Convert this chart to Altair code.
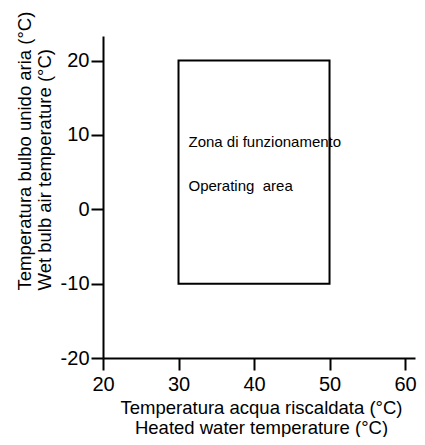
import altair as alt
import pandas as pd

# ---- data ----
x_ticks = [20, 30, 40, 50, 60]
y_ticks = [-20, -10, 0, 10, 20]
zone_x = [30, 50]
zone_y = [-10, 20]
label_text = ["Zona di funzionamento", "Operating\u00a0 area"]
label_y = [8.4, 2.4]
label_x = [30, 30]

x_domain = [20, 61.32]
y_domain = [-20, 23.3]

zone_df = pd.DataFrame({"x": [zone_x[0]], "x2": [zone_x[1]], "y": [zone_y[0]], "y2": [zone_y[1]]})
label_df = pd.DataFrame({"x": label_x, "y": label_y, "t": label_text})

FONT = "Liberation Sans"

xscale = alt.Scale(domain=x_domain, nice=False, zero=False)
yscale = alt.Scale(domain=y_domain, nice=False, zero=False)

xaxis = alt.Axis(
    values=x_ticks, title=["Temperatura acqua riscaldata (°C)", "Heated water temperature (°C)"],
    labelExpr="'' + datum.value",
    grid=False, tickSize=12, labelPadding=4, labelFontSize=20, titleFontSize=18.5,
    titleFontWeight="normal", titleLineHeight=20, titleAlign="center", titleBaseline="alphabetic",
    titleX=158, titleY=55, domainWidth=2, tickWidth=2, domainColor="black", tickColor="black",
    labelColor="black", titleColor="black", labelFont=FONT, titleFont=FONT, labelFlush=False,
)
yaxis = alt.Axis(
    values=y_ticks, title=["Temperatura bulbo unido aria (°C)", "Wet bulb air temperature (°C)"],
    labelExpr="'' + datum.value",
    grid=False, tickSize=12, labelPadding=2, labelFontSize=20, titleFontSize=18.5,
    titleFontWeight="normal", titleLineHeight=20.5, titleAngle=270, titleAlign="left",
    titleBaseline="alphabetic", titleX=-73, titleY=254, domainWidth=2, tickWidth=2,
    domainColor="black", tickColor="black", labelColor="black", titleColor="black",
    labelFont=FONT, titleFont=FONT, labelFlush=False,
)

rect = alt.Chart(zone_df).mark_rect(fill="white", fillOpacity=0, stroke="black", strokeWidth=2).encode(
    x=alt.X("x:Q", scale=xscale, axis=xaxis),
    x2="x2:Q",
    y=alt.Y("y:Q", scale=yscale, axis=yaxis),
    y2="y2:Q",
)

text = alt.Chart(label_df).mark_text(
    align="left", baseline="alphabetic", dx=10, fontSize=15, font=FONT, color="black"
).encode(
    x=alt.X("x:Q", scale=xscale),
    y=alt.Y("y:Q", scale=yscale),
    text="t:N",
)

chart = alt.layer(rect, text).properties(
    width=312, height=322,
    autosize=alt.AutoSizeParams(type="none"),
    padding={"left": 95, "top": 28, "right": 2, "bottom": 79},
).configure_view(stroke=None)

chart.save("out.html", embed_options={"renderer": "svg", "actions": False})
